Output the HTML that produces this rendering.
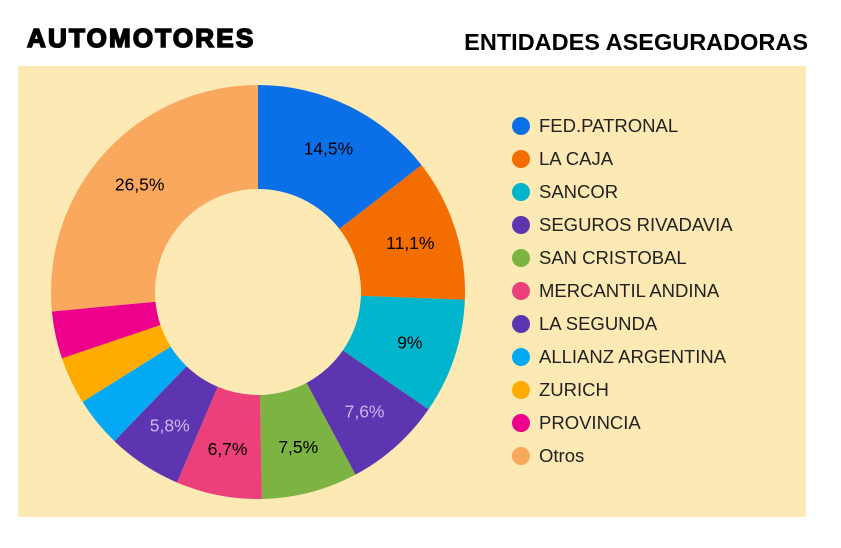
<!DOCTYPE html>
<html><head><meta charset="utf-8"><style>
html,body{margin:0;padding:0;background:#fff;width:841px;height:548px;overflow:hidden}
</style></head><body>
<svg id="s" width="841" height="548" xmlns="http://www.w3.org/2000/svg" font-family="Liberation Sans, sans-serif">
<text x="27" y="47" font-size="26" font-weight="bold" stroke="#000" stroke-width="1.6" letter-spacing="2.2" fill="#000">AUTOMOTORES</text>
<text x="808" y="50" font-size="23.5" font-weight="bold" text-anchor="end" fill="#000">ENTIDADES ASEGURADORAS</text>
<rect x="18" y="66" width="788" height="451" fill="#fde9b3"/>
<g id="pie"></g>
<g id="leg"></g>
</svg>
<script>
var d=[[14.5,"#0b6fe8","FED.PATRONAL","14,5%","#000"],[11.1,"#f46d00","LA CAJA","11,1%","#000"],[9,"#00b5cc","SANCOR","9%","#000"],[7.6,"#5e35b1","SEGUROS RIVADAVIA","7,6%","#c8b8ea"],[7.5,"#7cb342","SAN CRISTOBAL","7,5%","#000"],[6.7,"#ec407a","MERCANTIL ANDINA","6,7%","#000"],[5.8,"#5e35b1","LA SEGUNDA","5,8%","#c8b8ea"],[3.9,"#03a9f4","ALLIANZ ARGENTINA","",""],[3.7,"#ffab00","ZURICH","",""],[3.7,"#ec008c","PROVINCIA","",""],[26.5,"#f9a85e","Otros","26,5%","#000"]];
var cx=258,cy=292,R=207,r=103,a=0,ns="http://www.w3.org/2000/svg",P=document.getElementById("pie"),L=document.getElementById("leg");
function pt(ang,rad){var t=ang/100*2*Math.PI;return [cx+rad*Math.sin(t),cy-rad*Math.cos(t)];}
d.forEach(function(s,i){var b=a+s[0],lg=s[0]>50?1:0,p1=pt(a,R),p2=pt(b,R),p3=pt(b,r),p4=pt(a,r);
var e=document.createElementNS(ns,"path");e.setAttribute("d","M"+p1+"A"+R+","+R+" 0 "+lg+" 1 "+p2+"L"+p3+"A"+r+","+r+" 0 "+lg+" 0 "+p4+"Z");e.setAttribute("fill",s[1]);P.appendChild(e);
if(s[3]){var m=pt((a+b)/2,160),t=document.createElementNS(ns,"text");t.setAttribute("x",m[0]);t.setAttribute("y",m[1]+6);t.setAttribute("text-anchor","middle");t.setAttribute("font-size","17.5");t.setAttribute("fill",s[4]);t.textContent=s[3];P.appendChild(t);}
a=b;
var y=126+i*33,c=document.createElementNS(ns,"circle");c.setAttribute("cx",521);c.setAttribute("cy",y);c.setAttribute("r",9);c.setAttribute("fill",s[1]);L.appendChild(c);
var tx=document.createElementNS(ns,"text");tx.setAttribute("x",539);tx.setAttribute("y",y+6);tx.setAttribute("font-size","18.5");tx.setAttribute("fill","#222");tx.textContent=s[2];L.appendChild(tx);});
</script>
</body></html>
